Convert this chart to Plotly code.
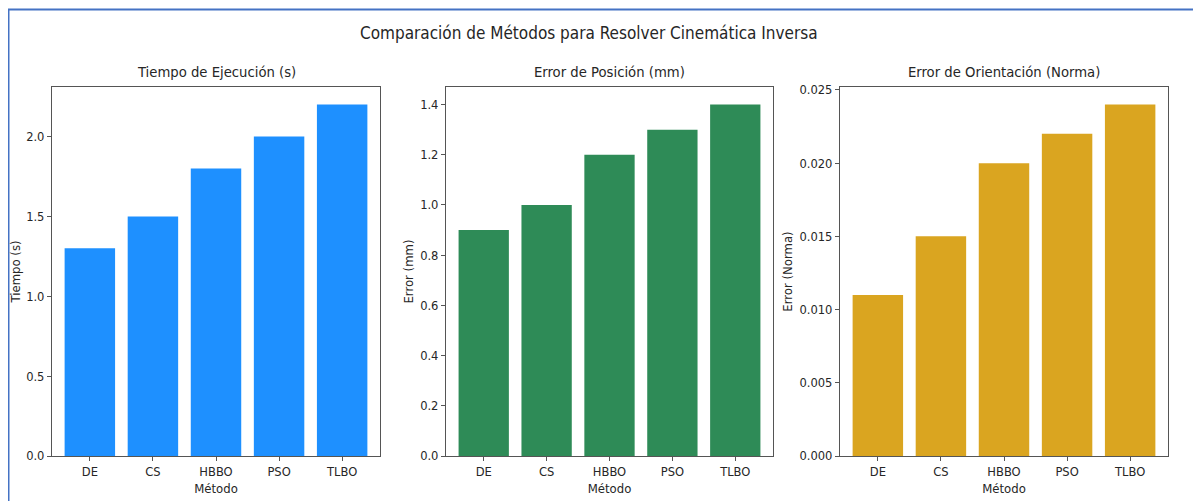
import plotly.graph_objects as go

metodos = ["DE", "CS", "HBBO", "PSO", "TLBO"]
tiempo = [1.3, 1.5, 1.8, 2.0, 2.2]
error_pos = [0.9, 1.0, 1.2, 1.3, 1.4]
error_ori = [0.011, 0.015, 0.020, 0.022, 0.024]

titles = ["Tiempo de Ejecución (s)", "Error de Posición (mm)", "Error de Orientación (Norma)"]
ylabels = ["Tiempo (s)", "Error (mm)", "Error (Norma)"]
colors = ["#1E90FF", "#2E8B57", "#DAA520"]
series = [tiempo, error_pos, error_ori]
dticks = [0.5, 0.2, 0.005]
fmts = [".1f", ".1f", ".3f"]

OFF = 8  # page body margin
W, H = 1201 - OFF, 501 - OFF
ml, mt = 52 - OFF, 87 - OFF
mr = W - (1168 - OFF)
mb = H - (456 - OFF)
pw = W - ml - mr
ph = H - mt - mb
px_domains = [(52, 380), (446, 773), (840, 1168)]
domains = [((a - OFF - ml) / pw, (b - OFF - ml) / pw) for a, b in px_domains]

def py(win_y):
    return (H - mb - (win_y - OFF)) / ph

def pxx(win_x):
    return (win_x - OFF - ml) / pw

fig = go.Figure()
font_family = "DejaVu Sans Condensed, DejaVu Sans"
axis_col = "#555555"
text_col = "#262626"
TICK = 12.8
ATITLE = 13

for i in range(3):
    n = i + 1
    xa = "x" if n == 1 else f"x{n}"
    ya = "y" if n == 1 else f"y{n}"
    fig.add_trace(go.Bar(x=metodos, y=series[i], marker=dict(color=colors[i], line=dict(width=0)),
                         xaxis=xa, yaxis=ya, showlegend=False, width=0.8))
    vmax = max(series[i])
    xkey = "xaxis" if n == 1 else f"xaxis{n}"
    ykey = "yaxis" if n == 1 else f"yaxis{n}"
    fig.update_layout(**{
        xkey: dict(domain=list(domains[i]), anchor=ya, type="category", range=[-0.6, 4.6],
                   automargin=False,
                   showline=True, linecolor=axis_col, linewidth=1, mirror=True,
                   ticks="outside", ticklen=4, tickcolor=axis_col, showgrid=False,
                   tickfont=dict(size=TICK, color=text_col, family=font_family),
                   title=dict(text="Método", font=dict(size=ATITLE, color=text_col, family=font_family), standoff=5)),
        ykey: dict(domain=[0, 1], anchor=xa, range=[0, vmax * 1.05], dtick=dticks[i], tick0=0,
                   tickformat=fmts[i], automargin=False,
                   showline=True, linecolor=axis_col, linewidth=1, mirror=True,
                   ticks="outside", ticklen=4, tickcolor=axis_col, showgrid=False, zeroline=False,
                   tickfont=dict(size=TICK, color=text_col, family=font_family),
                   title=dict(text=ylabels[i], font=dict(size=ATITLE, color=text_col, family=font_family), standoff=3)),
    })
    cx = (domains[i][0] + domains[i][1]) / 2
    fig.add_annotation(text=titles[i], x=cx, y=py(72), xref="paper", yref="paper",
                       showarrow=False, xanchor="center", yanchor="middle",
                       font=dict(size=14.7, color=text_col, family=font_family))

fig.add_annotation(text="Comparación de Métodos para Resolver Cinemática Inversa",
                   x=pxx(589), y=py(33), xref="paper", yref="paper",
                   showarrow=False, xanchor="center", yanchor="middle",
                   font=dict(size=17, color=text_col, family=font_family))

# figure border (blue frame)
fig.add_shape(type="rect", xref="paper", yref="paper",
              x0=pxx(8.5), x1=pxx(1230),
              y0=py(530), y1=py(9.5),
              line=dict(color="#4472C4", width=2), fillcolor="rgba(0,0,0,0)", layer="below")

fig.update_layout(width=W, height=H, margin=dict(l=ml, r=mr, t=mt, b=mb, autoexpand=False),
                  plot_bgcolor="white", paper_bgcolor="white",
                  font=dict(family=font_family, color=text_col), bargap=0.2)

fig.write_html("out.html")
